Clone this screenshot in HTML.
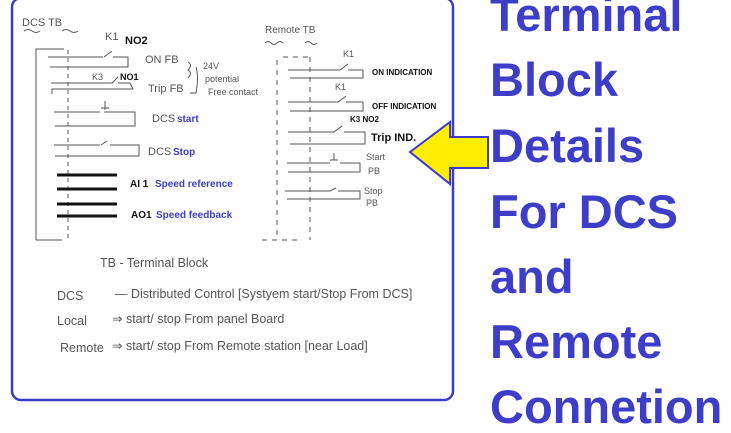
<!DOCTYPE html>
<html><head><meta charset="utf-8"><style>
html,body{margin:0;padding:0;background:#fff;width:731px;height:417px;overflow:hidden}
.t{position:absolute;left:490px;font:bold 47px "Liberation Sans",sans-serif;color:#3d3dc8;white-space:nowrap;line-height:1}
</style></head><body>
<svg width="731" height="417" style="position:absolute;left:0;top:0" font-family="Liberation Sans, sans-serif">
<rect x="12" y="-2" width="441" height="402" rx="9" fill="#fff" stroke="#3a3acb" stroke-width="2.5"/>
<g fill="none" stroke="#555" stroke-width="1">
<path d="M24 31 q4 -3 8 0 t8 0 M62 31 q4 -3 8 0 t8 0"/>
<path d="M64 49 H36 V240 H62"/>
<path d="M68 50 V240" stroke-dasharray="4 4"/>
<path d="M48 57 H103 M104 57 l8 -6 M113 57 H128 V67 H50"/>
<path d="M51 83 H112 l6 -6 M118 83 H130 l3 6 H52 V94"/>
<path d="M54 112 H100 M104 112 h6 M110 112 H135 V126 H55 M105 101 V110 M101 108 H109"/>
<path d="M54 145 H100 M101 145 l6 -4 M110 145 H139 V156 H55"/>
<path d="M188 62 q5 3 0 8 q5 3 0 8 M196 67 q3 10 0 26 H190"/>
<path d="M265 43 q3 -3 6 0 t6 0 t6 0 M305 43 q3 -3 6 0 t6 0"/>
<path d="M277 60 V240 M283 57 H312 M310 57 V240 M262 240 H300" stroke-dasharray="5 5"/>
<path d="M288 70 H340 l8 -6 M348 70 H363 V78 H290"/>
<path d="M288 102 H338 l8 -6 M346 102 H363 V111 H290"/>
<path d="M288 132 H334 l8 -6 M344 132 H365 V144 H290"/>
<path d="M287 163 H330 M340 163 H360 V172 H288 M334 153 V160 M330 160 H338"/>
<path d="M285 191 H330 l6 -3 M338 191 H360 V199 H287"/>
</g>
<g stroke="#111" stroke-width="3">
<path d="M57 175 H117 M57 189 H117 M57 204 H117 M57 216 H117"/>
</g>
<g fill="#555" font-size="11">
<text x="22" y="26">DCS TB</text>
<text x="105" y="40">K1</text>
<text x="145" y="63">ON FB</text>
<text x="92" y="80" font-size="9">K3</text>
<text x="148" y="92">Trip FB</text>
<text x="203" y="69" font-size="9">24V</text>
<text x="205" y="82" font-size="9">potential</text>
<text x="208" y="95" font-size="9">Free contact</text>
<text x="152" y="122">DCS</text>
<text x="148" y="155">DCS</text>
<text x="265" y="33" font-size="10">Remote TB</text>
<text x="343" y="57" font-size="9">K1</text>
<text x="335" y="90" font-size="9">K1</text>
<text x="366" y="160" font-size="9">Start</text>
<text x="368" y="174" font-size="9">PB</text>
<text x="364" y="194" font-size="9">Stop</text>
<text x="366" y="206" font-size="9">PB</text>
<g font-size="12.5">
<text x="100" y="267">TB - Terminal Block</text>
<text x="57" y="300">DCS</text><text x="115" y="298">— Distributed  Control  [Systyem  start/Stop  From  DCS]</text>
<text x="57" y="325">Local</text><text x="112" y="323">⇒ start/ stop  From  panel  Board</text>
<text x="60" y="352">Remote</text><text x="112" y="350">⇒ start/ stop  From  Remote  station  [near  Load]</text>
</g>
</g>
<g fill="#111" font-weight="bold">
<text x="125" y="44" font-size="11">NO2</text>
<text x="120" y="80" font-size="9">NO1</text>
<text x="130" y="187" font-size="10">AI 1</text>
<text x="131" y="218" font-size="10">AO1</text>
<text x="372" y="75" font-size="8">ON INDICATION</text>
<text x="372" y="109" font-size="8">OFF INDICATION</text>
<text x="350" y="122" font-size="8">K3 NO2</text>
<text x="371" y="141" font-size="11">Trip IND.</text>
</g>
<g fill="#3d3dc8" font-weight="bold" font-size="10">
<text x="177" y="122">start</text>
<text x="173" y="155">Stop</text>
<text x="155" y="187">Speed reference</text>
<text x="156" y="218">Speed feedback</text>
</g>
<polygon points="410,152 450,122 450,137 488,137 488,168 450,168 450,184" fill="#ffee00" stroke="#3a3acb" stroke-width="2"/>
</svg>
<div class="t" style="top:-9px">Terminal</div>
<div class="t" style="top:56px">Block</div>
<div class="t" style="top:122px">Details</div>
<div class="t" style="top:188px">For DCS</div>
<div class="t" style="top:253px">and</div>
<div class="t" style="top:318px">Remote</div>
<div class="t" style="top:383px">Connetion</div>
</body></html>
